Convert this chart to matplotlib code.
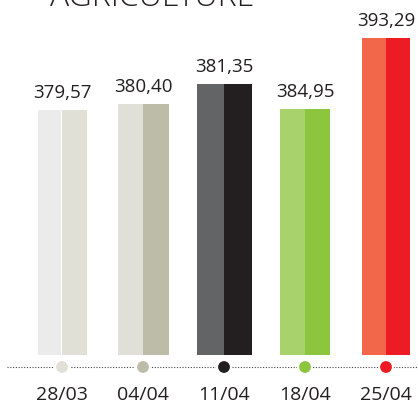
import matplotlib
matplotlib.use("Agg")
import matplotlib.pyplot as plt

# ---- data ----
title = "AGRICULTURE"
dates = ["28/03", "04/04", "11/04", "18/04", "25/04"]
values = [379.57, 380.40, 381.35, 384.95, 393.29]
value_labels = ["379,57", "380,40", "381,35", "384,95", "393,29"]
# displayed bar heights (pixels, as drawn in the infographic)
bar_heights = [245, 251, 271, 246, 317]

# ---- style ----
left_colors = ["#ebebeb", "#e0e0d8", "#636466", "#a8d26c", "#f26649"]
right_colors = ["#e0e0d6", "#bdbca8", "#231f20", "#8cc63f", "#ed1c24"]
dot_colors = ["#e0e0d6", "#bdbca8", "#231f20", "#8cc63f", "#ed1c24"]
bar_widths_px = [49, 51, 55, 50, 48]
gap_px = [1, 0, 0, 0, 0]
text_color = "#231f20"
font = "Open Sans"

W, H = 418, 401
PX = 81.0  # pixels per category step
x0 = 62.0  # pixel center of first category

fig = plt.figure(figsize=(W / 100, H / 100), dpi=100)
ax = fig.add_axes([0, 0, 1, 1])
ax.set_xlim(-x0 / PX, (W - x0) / PX)
ax.set_ylim(-(H - 355), 355)
ax.axis("off")

xs = list(range(len(dates)))
for i in xs:
    w = bar_widths_px[i] / PX
    g = gap_px[i] / PX
    ax.bar(i - w / 4 - g / 2, bar_heights[i], width=w / 2 - g, color=left_colors[i], linewidth=0)
    ax.bar(i + w / 4, bar_heights[i], width=w / 2, color=right_colors[i], linewidth=0)
    ax.text(i, bar_heights[i] + 12, value_labels[i], ha="center", va="baseline",
            fontsize=13.5, color=text_color, family=font)
    ax.text(i, -45, dates[i], ha="center", va="baseline",
            fontsize=14, color=text_color, family=font)

# dotted baseline
ax.plot([7 / PX - x0 / PX, (W - x0) / PX], [-12, -12], linestyle=(0, (1, 1.5)),
        color="#444444", linewidth=0.8, zorder=1)
ax.scatter(xs, [-12] * len(xs), s=100, c=dot_colors, edgecolors="white",
           linewidths=1.5, zorder=3)

ax.text((152 - x0) / PX, 349, title, ha="center", va="baseline",
        fontsize=23, color=text_color, family=font, fontweight="light")

fig.savefig("out.png", dpi=100)
